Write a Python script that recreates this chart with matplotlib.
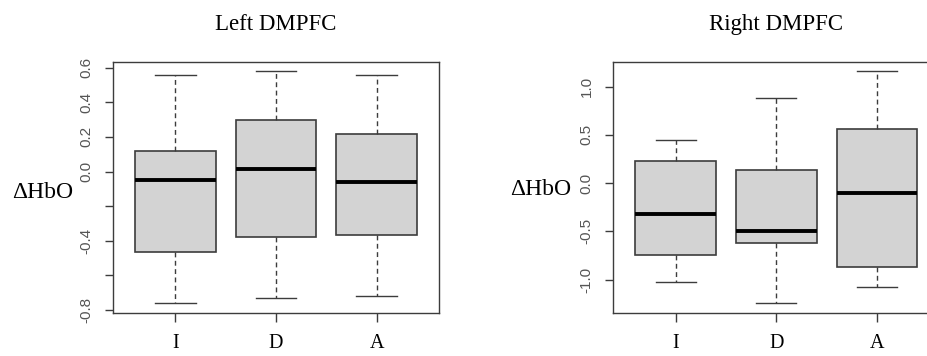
import numpy as np
import matplotlib
matplotlib.use("Agg")
import matplotlib.pyplot as plt

groups = ["I", "D", "A"]
titles = ["Left DMPFC", "Right DMPFC"]

# five-number summaries per group: lower whisker, Q1, median, Q3, upper whisker
left_lo = [-0.762, -0.731, -0.719]
left_q1 = [-0.466, -0.381, -0.366]
left_med = [-0.047, 0.015, -0.058]
left_q3 = [0.121, 0.297, 0.218]
left_hi = [0.556, 0.581, 0.556]

right_lo = [-1.024, -1.247, -1.080]
right_q1 = [-0.750, -0.625, -0.868]
right_med = [-0.323, -0.493, -0.097]
right_q3 = [0.226, 0.132, 0.563]
right_hi = [0.451, 0.885, 1.163]

left_ticks = [-0.8, -0.6, -0.4, -0.2, 0.0, 0.2, 0.4, 0.6]
left_ticklabels = ["-0.8", "", "-0.4", "", "0.0", "0.2", "0.4", "0.6"]
right_ticks = [-1.0, -0.5, 0.0, 0.5, 1.0]
right_ticklabels = ["-1.0", "-0.5", "0.0", "0.5", "1.0"]

serif = ["Liberation Serif", "DejaVu Serif"]
sans = ["Liberation Sans", "DejaVu Sans"]
frame_col = "#3c3c3c"

W, H = 927, 356
fig = plt.figure(figsize=(W / 100, H / 100), dpi=100)
fig.patch.set_facecolor("white")

panels = [
    (113, (left_lo, left_q1, left_med, left_q3, left_hi), left_ticks, left_ticklabels, (-0.215, 0.478)),
    (613.3, (right_lo, right_q1, right_med, right_q3, right_hi), right_ticks, right_ticklabels, (-0.223, 0.492)),
]

for k, (x0, stats5, ticks, ticklabels, ylab_xy) in enumerate(panels):
    ax = fig.add_axes([x0 / W, 1 - 312.7 / H, 326 / W, 251 / H])
    lo, q1, med, q3, hi = stats5
    stats = [dict(whislo=lo[i], q1=q1[i], med=med[i], q3=q3[i], whishi=hi[i],
                  fliers=[], label=groups[i]) for i in range(3)]
    ax.bxp(stats, positions=[1, 2, 3], widths=0.8, capwidths=0.4,
           showfliers=False, patch_artist=True,
           boxprops=dict(facecolor="#d3d3d3", edgecolor=frame_col, linewidth=1.2),
           medianprops=dict(color="black", linewidth=2.8, solid_capstyle="butt"),
           whiskerprops=dict(color=frame_col, linewidth=1.0, linestyle=(0, (3.5, 2.5))),
           capprops=dict(color=frame_col, linewidth=1.0))

    # R-style 4% padding on the data range
    ymin, ymax = min(lo), max(hi)
    pad = 0.04 * (ymax - ymin)
    ax.set_ylim(ymin - pad, ymax + pad)
    ax.set_xlim(0.38, 3.62)

    for s in ax.spines.values():
        s.set_color(frame_col)
        s.set_linewidth(1.0)

    ax.set_yticks(ticks)
    ax.set_yticklabels(ticklabels, rotation=90, va="center", family=sans,
                       fontsize=11, color="#555555")
    ax.set_xticks([1, 2, 3])
    ax.set_xticklabels(groups, family=serif, fontsize=14.5, color="black")
    ax.tick_params(axis="y", length=6, width=1.0, color=frame_col, pad=8)
    ax.tick_params(axis="x", length=6.5, width=1.0, color=frame_col, pad=9)

    ax.text(0.5, 1.148, titles[k], transform=ax.transAxes, ha="center", va="center",
            family=serif, fontsize=16.5)
    ax.text(ylab_xy[0], ylab_xy[1], "\u0394HbO", transform=ax.transAxes,
            ha="center", va="center", family=serif, fontsize=17)

fig.savefig("out.png", dpi=100)
